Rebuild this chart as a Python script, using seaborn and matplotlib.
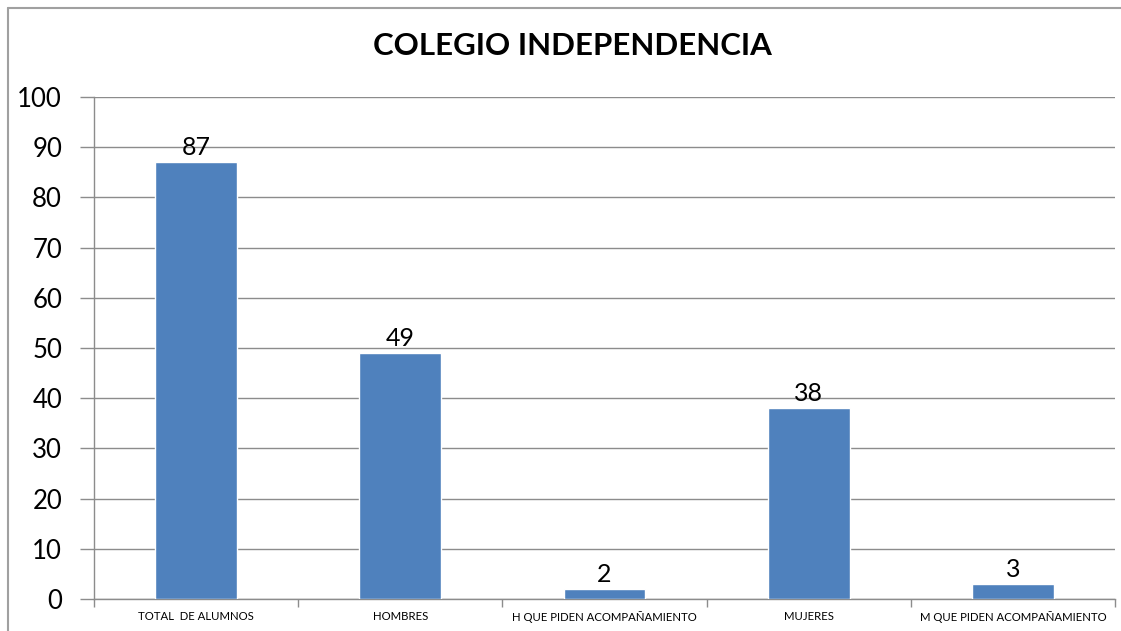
import matplotlib
matplotlib.use("Agg")
import matplotlib.pyplot as plt
import seaborn as sns
import pandas as pd
from matplotlib.lines import Line2D

categories = ["TOTAL  DE ALUMNOS", "HOMBRES", "H QUE PIDEN ACOMPAÑAMIENTO",
              "MUJERES", "M QUE PIDEN ACOMPAÑAMIENTO"]
values = [87, 49, 2, 38, 3]
title = "COLEGIO INDEPENDENCIA"
yticks = [0, 10, 20, 30, 40, 50, 60, 70, 80, 90, 100]

sns.set_theme(style="white")
plt.rcParams['font.family'] = ['Lato', 'DejaVu Sans']

df = pd.DataFrame({"cat": categories, "val": values})

fig = plt.figure(figsize=(11.21, 6.31), dpi=100)
ax = fig.add_axes([94/1121, 1-599/631, (1115-94)/1121, (599-97)/631])

sns.barplot(data=df, x="cat", y="val", color="#4F81BD", width=0.4,
            saturation=1, ax=ax, zorder=3)

grid_c = "#8C8C8C"
ax.set_ylim(0, 100)
ax.set_xlim(-0.5, len(categories) - 0.5)
ax.set_yticks(yticks)
ax.set_yticklabels([str(t) for t in yticks], fontsize=18.5, color="black")
ax.yaxis.grid(True, color=grid_c, linewidth=1, zorder=0)
ax.set_axisbelow(True)
ax.tick_params(axis="y", length=10, width=1, color=grid_c, pad=13, left=True)

ax.set_xticks([i + 0.5 for i in range(-1, len(categories))], minor=False)
ax.set_xticklabels([])
ax.set_xticks(range(len(categories)), minor=True)
ax.set_xticklabels(categories, minor=True, fontsize=8.2, color="black")
ax.tick_params(axis="x", which="major", length=6, width=1, color=grid_c, bottom=True, direction="out")
ax.tick_params(axis="x", which="minor", length=0, pad=9)

for s in ["top", "right"]:
    ax.spines[s].set_visible(False)
for s in ["left", "bottom"]:
    ax.spines[s].set_color(grid_c)
    ax.spines[s].set_linewidth(1)

ax.set_xlabel("")
ax.set_ylabel("")

for i, v in enumerate(values):
    ax.annotate(str(v), (i, v), xytext=(0, 2), textcoords="offset points",
                ha="center", va="bottom", fontsize=18, color="black")

fig.text(572/1121, 1-46/631, title, ha="center", va="center",
         fontsize=22.5, fontweight="bold", color="black")

bx = 8/1121
by = 1 - 8/631
fig.add_artist(Line2D([bx, 1.0], [by, by], transform=fig.transFigure,
                      color="#A0A0A0", linewidth=1.5))
fig.add_artist(Line2D([bx, bx], [0.0, by], transform=fig.transFigure,
                      color="#A0A0A0", linewidth=1.5))

fig.savefig("out.png", dpi=100, facecolor="white")
